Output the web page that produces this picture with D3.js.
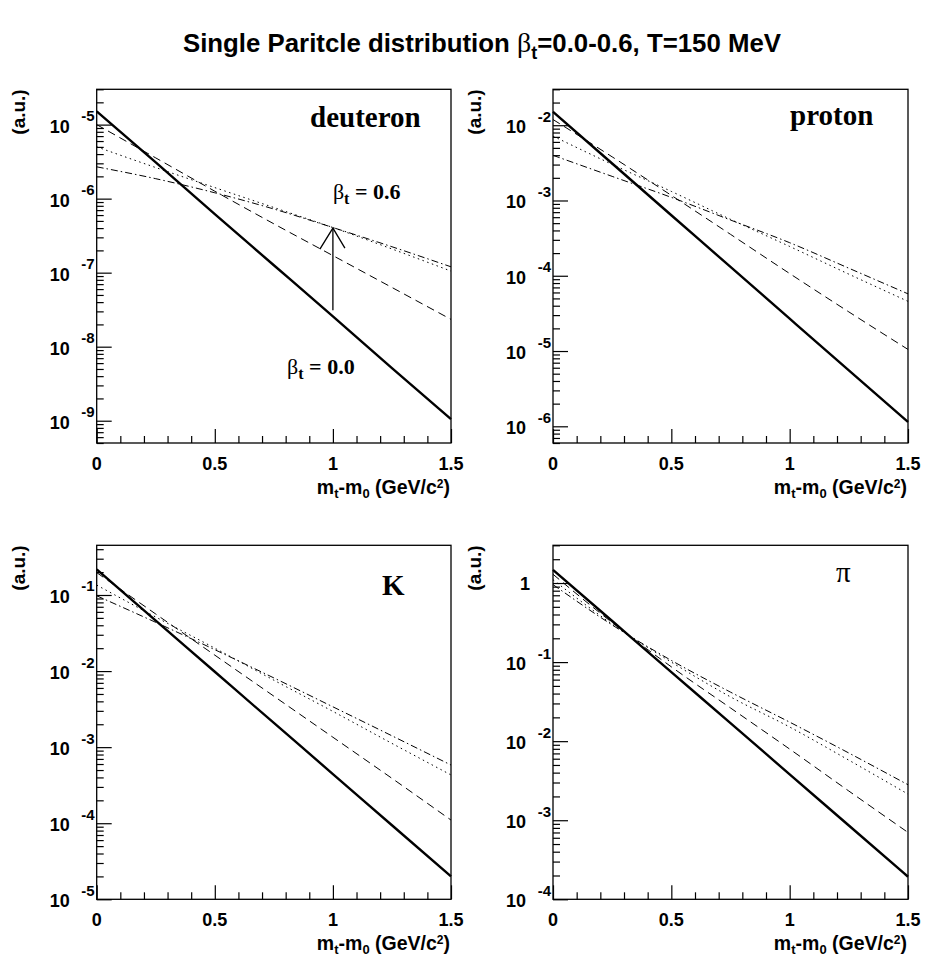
<!DOCTYPE html>
<html><head><meta charset="utf-8">
<script src="https://cdn.jsdelivr.net/npm/d3@7"></script>
<style>
body{margin:0;background:#fff;}
svg{display:block;}
</style></head>
<body>
<script>
// ---------- data ----------
const mtGrid = [0, 0.25, 0.5, 0.75, 1.0, 1.25, 1.5];
const betaLabels = ["0.0", "0.2", "0.4", "0.6"];

const deuteronB00 = [1.51e-5, 3.09e-6, 6.17e-7, 1.26e-7, 2.57e-8, 5.13e-9, 1.05e-9];
const deuteronB02 = [1.00e-5, 3.55e-6, 1.26e-6, 4.57e-7, 1.70e-7, 6.31e-8, 2.34e-8];
const deuteronB04 = [5.01e-6, 2.63e-6, 1.41e-6, 7.59e-7, 4.07e-7, 2.09e-7, 1.05e-7];
const deuteronB06 = [2.69e-6, 1.86e-6, 1.20e-6, 7.24e-7, 4.07e-7, 2.24e-7, 1.20e-7];

const protonB00 = [1.51e-2, 3.10e-3, 6.37e-4, 1.31e-4, 2.69e-5, 5.53e-6, 1.14e-6];
const protonB02 = [1.19e-2, 3.80e-3, 1.17e-3, 3.55e-4, 1.07e-4, 3.31e-5, 1.05e-5];
const protonB04 = [7.16e-3, 3.02e-3, 1.32e-3, 5.62e-4, 2.45e-4, 1.05e-4, 4.57e-5];
const protonB06 = [3.98e-3, 2.09e-3, 1.10e-3, 5.50e-4, 2.75e-4, 1.26e-4, 5.75e-5];

const kaonB00 = [0.217, 4.61e-2, 9.79e-3, 2.08e-3, 4.43e-4, 9.40e-5, 2.00e-5];
const kaonB02 = [0.197, 5.62e-2, 1.62e-2, 4.68e-3, 1.35e-3, 3.89e-4, 1.10e-4];
const kaonB04 = [0.135, 5.13e-2, 2.00e-2, 7.59e-3, 2.95e-3, 1.12e-3, 4.31e-4];
const kaonB06 = [9.77e-2, 4.37e-2, 1.91e-2, 8.13e-3, 3.39e-3, 1.41e-3, 5.82e-4];

const pionB00 = [1.47, 0.331, 7.46e-2, 1.69e-2, 3.80e-3, 8.57e-4, 1.93e-4];
const pionB02 = [1.29, 0.316, 8.71e-2, 2.63e-2, 7.94e-3, 2.34e-3, 7.01e-4];
const pionB04 = [1.10, 0.302, 0.100, 3.63e-2, 1.51e-2, 5.75e-3, 2.14e-3];
const pionB06 = [0.955, 0.295, 0.105, 4.17e-2, 1.74e-2, 7.08e-3, 2.81e-3];

const xTickLabels = ["0", "0.5", "1", "1.5"];
const xTickValues = [0, 0.5, 1, 1.5];

const deuteronDecades = [-9, -8, -7, -6, -5];
const protonDecades = [-6, -5, -4, -3, -2];
const kaonDecades = [-5, -4, -3, -2, -1];
const pionDecades = [-4, -3, -2, -1, 0];

const arrowX = 1.0, arrowFrom = 3.1e-8, arrowTo = 4.0e-7;

// ---------- layout ----------
const W = 926, H = 967;
const svg = d3.select("body").append("svg").attr("width", W).attr("height", H)
  .style("background", "#fff");

const SANS = "'Liberation Sans', Arial, Helvetica, sans-serif";
const SERIF = "'Liberation Serif', 'Times New Roman', serif";

const panels = [
  {name: "deuteron", series: [deuteronB00, deuteronB02, deuteronB04, deuteronB06], dom: [5e-10, 3e-5], dec: deuteronDecades,
   x0: 96.7, x1: 451, y0: 89.3, y1: 443, lab: {x: 310, y: 127, font: SERIF, w: "bold", t: "deuteron"}},
  {name: "proton", series: [protonB00, protonB02, protonB04, protonB06], dom: [6e-7, 3e-2], dec: protonDecades,
   x0: 553, x1: 908, y0: 89.3, y1: 443, lab: {x: 790, y: 125, font: SERIF, w: "bold", t: "proton"}},
  {name: "K", series: [kaonB00, kaonB02, kaonB04, kaonB06], dom: [1e-5, 0.45], dec: kaonDecades,
   x0: 96.7, x1: 451, y0: 545.3, y1: 899.3, lab: {x: 382, y: 595, font: SERIF, w: "bold", t: "K"}},
  {name: "pi", series: [pionB00, pionB02, pionB04, pionB06], dom: [1e-4, 3], dec: pionDecades,
   x0: 553, x1: 908, y0: 545.3, y1: 899.3, lab: {x: 836, y: 582, font: SERIF, w: "normal", t: "π"}}
];

const styles = [
  {w: 2.4, dash: null},
  {w: 1, dash: "8,5"},
  {w: 1, dash: "1.5,3.5"},
  {w: 1, dash: "7,3,1.5,3"}
];

// title
const title = svg.append("text").attr("x", 482).attr("y", 52)
  .attr("text-anchor", "middle").attr("font-family", SANS).attr("font-weight", "bold")
  .attr("font-size", 25.8).attr("fill", "#000");
title.append("tspan").text("Single Paritcle distribution ");
title.append("tspan").attr("font-family", SERIF).attr("font-weight", "normal").attr("font-size", 28).text("β");
title.append("tspan").attr("font-size", 18).attr("dy", 7).text("t");
title.append("tspan").attr("dy", -7).text("=0.0-0.6, T=150 MeV");

panels.forEach((p, pi) => {
  const g = svg.append("g");
  const x = d3.scaleLinear().domain([0, 1.5]).range([p.x0, p.x1]);
  const y = d3.scaleLog().domain(p.dom).range([p.y1, p.y0]);

  // curves
  const line = d3.line().x((d, i) => x(mtGrid[i])).y(d => y(d)).curve(d3.curveMonotoneX);
  p.series.forEach((s, si) => {
    g.append("path").datum(s).attr("d", line).attr("fill", "none").attr("stroke", "#000")
      .attr("stroke-width", styles[si].w)
      .attr("stroke-dasharray", styles[si].dash);
  });

  // frame
  g.append("rect").attr("x", p.x0).attr("y", p.y0).attr("width", p.x1 - p.x0).attr("height", p.y1 - p.y0)
    .attr("fill", "none").attr("stroke", "#000").attr("stroke-width", 1.3);

  // x axis ticks (inward)
  const minorX = d3.range(0, 16).map(i => i / 10).filter(v => xTickValues.indexOf(v) < 0);
  const xMajor = d3.axisBottom(x).tickValues(xTickValues).tickSize(-14).tickFormat("");
  const xMinor = d3.axisBottom(x).tickValues(minorX).tickSize(-7).tickFormat("");
  [xMajor, xMinor].forEach(ax => {
    const a = g.append("g").attr("transform", `translate(0,${p.y1})`).call(ax);
    a.select(".domain").remove();
    a.selectAll("line").attr("stroke", "#000").attr("stroke-width", 1.2);
  });
  xTickValues.forEach((v, i) => {
    g.append("text").attr("x", x(v)).attr("y", p.y1 + 27).attr("text-anchor", "middle")
      .attr("font-family", SANS).attr("font-weight", "bold").attr("font-size", 18).text(xTickLabels[i]);
  });

  // y axis ticks (inward)
  const majorY = p.dec.map(e => Math.pow(10, e));
  const minorY = [];
  for (let e = p.dec[0] - 1; e <= p.dec[p.dec.length - 1]; e++) {
    for (let k = 2; k <= 9; k++) {
      const v = k * Math.pow(10, e);
      if (v >= p.dom[0] * 0.999 && v <= p.dom[1] * 1.001) minorY.push(v);
    }
  }
  const yMajor = d3.axisLeft(y).tickValues(majorY).tickSize(-15).tickFormat("");
  const yMinor = d3.axisLeft(y).tickValues(minorY).tickSize(-7).tickFormat("");
  [yMajor, yMinor].forEach(ax => {
    const a = g.append("g").attr("transform", `translate(${p.x0},0)`).call(ax);
    a.select(".domain").remove();
    a.selectAll("line").attr("stroke", "#000").attr("stroke-width", 1.2);
  });
  p.dec.forEach(e => {
    const yy = y(Math.pow(10, e));
    if (e === 0) {
      g.append("text").attr("x", p.x0 - 23).attr("y", yy + 7).attr("text-anchor", "end")
        .attr("font-family", SANS).attr("font-weight", "bold").attr("font-size", 18).text("1");
    } else {
      g.append("text").attr("x", p.x0 - 27).attr("y", yy + 8).attr("text-anchor", "end")
        .attr("font-family", SANS).attr("font-weight", "bold").attr("font-size", 18).text("10");
      g.append("text").attr("x", p.x0 - 2).attr("y", yy - 3.5).attr("text-anchor", "end")
        .attr("font-family", SANS).attr("font-weight", "bold").attr("font-size", 15).text(String(e));
    }
  });

  // axis titles
  const xt = g.append("text").attr("x", p.x1 - 1).attr("y", p.y1 + 51).attr("text-anchor", "end")
    .attr("font-family", SANS).attr("font-weight", "bold").attr("font-size", 19.5);
  xt.append("tspan").text("m");
  xt.append("tspan").attr("font-size", 13).attr("dy", 4).text("t");
  xt.append("tspan").attr("dy", -4).text("-m");
  xt.append("tspan").attr("font-size", 13).attr("dy", 4).text("0");
  xt.append("tspan").attr("dy", -4).text(" (GeV/c");
  xt.append("tspan").attr("font-size", 12).attr("dy", -6).text("2");
  xt.append("tspan").attr("dy", 6).text(")");

  const ytx = p.x0 - 72;
  g.append("text").attr("transform", `translate(${ytx},${p.y0}) rotate(-90)`)
    .attr("text-anchor", "end").attr("font-family", SANS).attr("font-weight", "bold")
    .attr("font-size", 19).text("(a.u.)");

  // particle label
  g.append("text").attr("x", p.lab.x).attr("y", p.lab.y).attr("font-family", p.lab.font)
    .attr("font-weight", p.lab.w).attr("font-size", 29).text(p.lab.t);

  // deuteron annotations
  if (pi === 0) {
    const ax = x(arrowX), ya = y(arrowFrom), yb = y(arrowTo);
    g.append("line").attr("x1", ax).attr("x2", ax).attr("y1", ya).attr("y2", yb)
      .attr("stroke", "#000").attr("stroke-width", 1.3);
    g.append("path").attr("d", `M${ax - 13},${yb + 21}L${ax},${yb}L${ax + 12},${yb + 20}`)
      .attr("fill", "none").attr("stroke", "#000").attr("stroke-width", 1.3);
    const ann = (xv, yv, val) => {
      const t = g.append("text").attr("x", x(xv)).attr("y", y(yv)).attr("font-family", SERIF)
        .attr("font-weight", "bold").attr("font-size", 22);
      t.append("tspan").attr("font-weight", "normal").text("β");
      t.append("tspan").attr("font-size", 16).attr("dy", 5).text("t");
      t.append("tspan").attr("dy", -5).text(" = " + val);
    };
    ann(1.0, 1.0e-6, betaLabels[3]);
    ann(0.806, 4.3e-9, betaLabels[0]);
  }
});
</script>
</body></html>
